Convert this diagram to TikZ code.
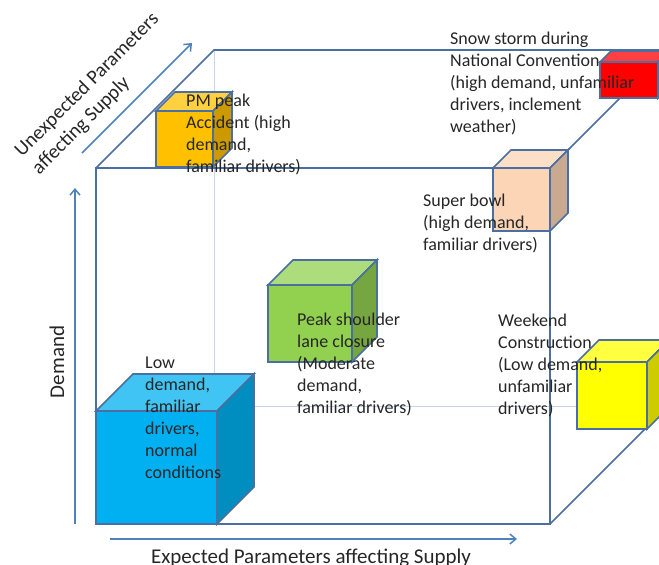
\documentclass[tikz,border=0pt]{standalone}
\usepackage{fontspec}
\setmainfont{Carlito}
\usepackage{tikz}
\usetikzlibrary{positioning,arrows.meta}
\definecolor{edge}{HTML}{4A6FA0}
\definecolor{hidden}{HTML}{C5D5EA}
\definecolor{axis}{HTML}{4F81BD}
\definecolor{ink}{HTML}{262626}
\definecolor{lowblue}{HTML}{00B0F0}
\definecolor{pmorange}{HTML}{FFC000}
\definecolor{shgreen}{HTML}{92D050}
\definecolor{bowlpeach}{HTML}{FBD5B5}
\definecolor{wkyellow}{HTML}{FFFF00}
\definecolor{snowred}{HTML}{FF0000}

\begin{document}
\begin{tikzpicture}[x=1pt, y=-1pt,
  frame/.style={edge, line width=1.6pt},
  backline/.style={hidden, line width=1pt},
  axisarrow/.style={axis, line width=1.5pt, -{Straight Barb[length=6pt,width=10pt]}},
  txt/.style={font=\fontsize{18}{22}\selectfont, text=ink, align=left, inner sep=0pt, anchor=north west},
  axistxt/.style={txt, font=\fontsize{21}{25}\selectfont}]
\useasboundingbox (0,0) rectangle (659,565);
\clip (0,0) rectangle (659,565);
% corners of the big cube
\coordinate (ftl) at (96,168);
\coordinate (ftr) at (550,168);
\coordinate (fbl) at (96,524);
\coordinate (fbr) at (550,524);
\coordinate (btl) at (214,50);
\coordinate (btr) at (668,50);
\coordinate (bbl) at (214,406);
\coordinate (bbr) at (668,406);
% hidden edges
\draw[backline] (btl) -- (bbl) -- (bbr);
% visible edges
\draw[frame] (ftl) rectangle (fbr);
\draw[frame] (ftl) -- (btl) -- (btr) -- (ftr);
\draw[frame] (fbr) -- (bbr);
% small cubes: front top left, width, height, depth, colour
\foreach \x/\y/\w/\h/\d/\c in {96/411/121/113/37/lowblue, 156/111/57/56/19/pmorange,
    268/285/84/77/25/shgreen, 493/168/57/63/18/bowlpeach,
    577/362/70/67/22/wkyellow, 600/62/58/36/11/snowred}{
  \draw[frame, fill=\c] (\x,\y) rectangle ++(\w,\h);
  \draw[frame, fill=\c!75!white] (\x,\y) -- ++(\d,-\d) -- ++(\w,0) -- ++(-\d,\d) -- cycle;
  \draw[frame, fill=\c!80!black] (\x+\w,\y) -- ++(\d,-\d) -- ++(0,\h) -- ++(-\d,\d) -- cycle;
}
% axes
\coordinate (vstart) at (75,524);
\coordinate (vend) at (75,188);
\coordinate (hstart) at (110,539);
\coordinate (hend) at (517,539);
\coordinate (dstart) at (82,153);
\coordinate (dend) at (192,43);
\draw[axisarrow] (vstart) -- (vend);
\draw[axisarrow] (hstart) -- (hend);
\draw[axisarrow] (dstart) -- (dend);
\node[axistxt, rotate=90, anchor=base] (demand) at (64,362) {Demand};
\node[axistxt, anchor=base] (expected) at (311,563) {Expected Parameters affecting Supply};
\node[axistxt, font=\fontsize{20}{24.5}\selectfont, rotate=45] (unexpected) at (12,148) {Unexpected Parameters\\affecting Supply};
% scenario labels
\node[txt] (pmpeak) at (186,94) {PM peak\\Accident (high\\demand,\\familiar drivers)};
\node[txt] (snowstorm) at (450,32) {Snow storm during\\National Convention\\(high demand, unfamiliar\\drivers, inclement\\weather)};
\node[txt] (superbowl) at (423,194) {Super bowl\\(high demand,\\familiar drivers)};
\node[txt] (shoulder) at (297,313) {Peak shoulder\\lane closure\\(Moderate\\demand,\\familiar drivers)};
\node[txt] (lowdemand) at (145,357) {Low\\demand,\\familiar\\drivers,\\normal\\conditions};
\node[txt] (weekend) at (498,314) {Weekend\\Construction\\(Low demand,\\unfamiliar\\drivers)};
\end{tikzpicture}
\end{document}
